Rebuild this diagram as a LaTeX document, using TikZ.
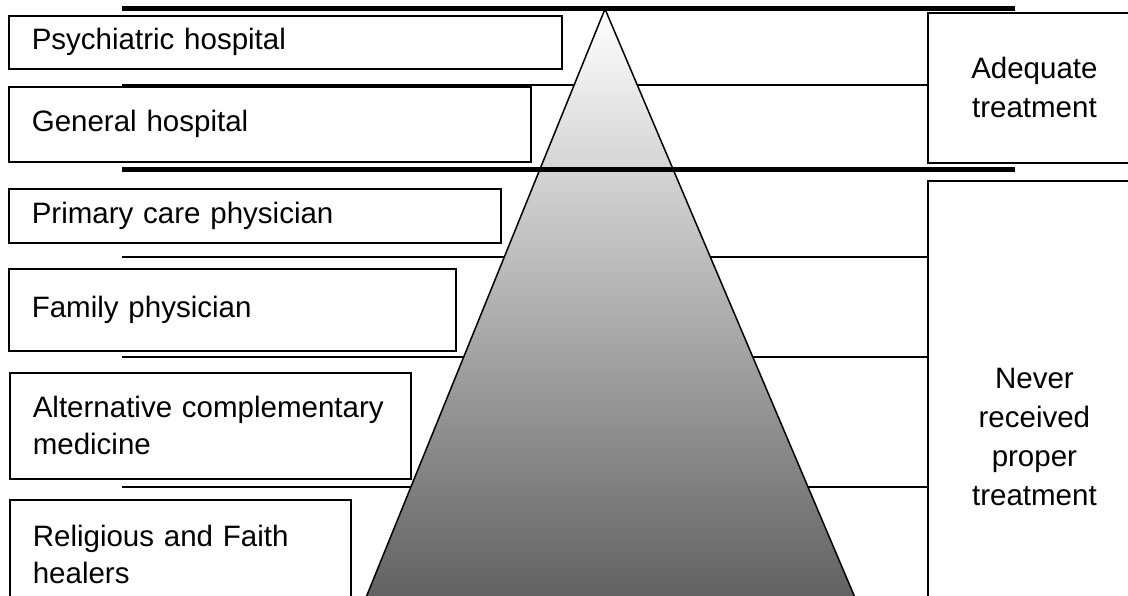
\documentclass[tikz,border=0pt]{standalone}
\usepackage{fontspec}
\setmainfont{Liberation Sans}
\begin{document}
\begin{tikzpicture}[x=1pt,y=-1pt,
  lbox/.style={draw,line width=1.6pt,fill=white,anchor=north west,inner xsep=23pt,inner ysep=0pt,align=left,font=\fontsize{29.5}{37}\selectfont},
  rbox/.style={draw,line width=1.8pt,fill=white,anchor=north west,inner sep=0pt,align=center,text width=213pt,font=\fontsize{29.5}{39}\selectfont},
  sep/.style={line width=1.5pt},
  bar/.style={line width=5pt}]
  \clip (0,0) rectangle (1128,595);
  \coordinate (apex) at (605,9);
  \coordinate (bl) at (365,600);
  \coordinate (br) at (856,600);
  % thin lines between the levels
  \foreach \y in {85,257,357,487} \draw[sep] (122,\y) -- (927,\y);
  \shade[top color=white,middle color=black!25,bottom color=black!62] (apex) -- (br) -- (bl) -- cycle;
  \draw[line width=1.5pt] (bl) -- (apex) -- (br);
  \draw[bar] (122,8) -- (1015,8);
  \draw[bar] (122,169) -- (1015,169);
  % left column
  \node[lbox,text width=507pt,minimum height=53pt] (psych) at (8,15) {Psychiatric hospital};
  \node[lbox,text width=476pt,minimum height=75pt] (genhosp) at (8,86) {General hospital};
  \node[lbox,text width=446pt,minimum height=54pt] (primary) at (8,188) {Primary care physician};
  \node[lbox,text width=401pt,minimum height=82pt] (family) at (8,268) {Family physician};
  \node[lbox,text width=355pt,minimum height=106pt] (altmed) at (9,372) {Alternative complementary\\medicine};
  \node[lbox,text width=295pt,minimum height=110pt] (faith) at (9,499) {Religious and Faith\\healers};
  % right column
  \node[rbox,minimum height=150pt] (adequate) at (927,12) {Adequate\\treatment};
  \node[rbox,minimum height=512pt] (never) at (927,180) {Never\\received\\proper\\treatment};
\end{tikzpicture}
\end{document}
